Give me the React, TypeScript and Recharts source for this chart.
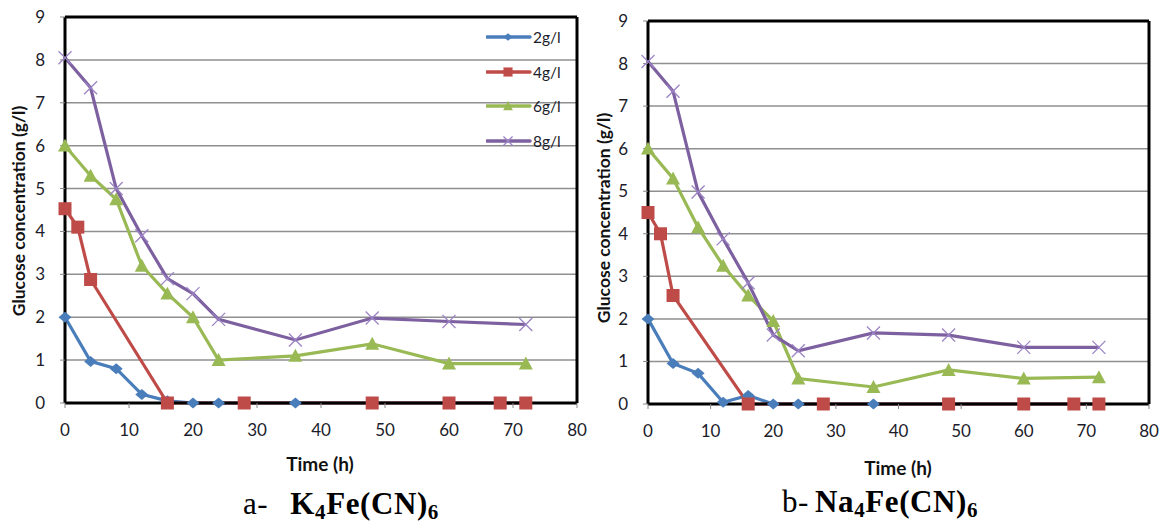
import React from "react"
import { LineChart, Line, XAxis, YAxis, CartesianGrid, ReferenceLine, Legend } from "recharts"

// sampling times (h)
const times = [0, 4, 8, 12, 16, 20, 24, 36, 48, 60, 72]
const times4 = [0, 2, 4, 16, 28, 48, 60, 68, 72]

const xTicks = [0, 10, 20, 30, 40, 50, 60, 70, 80]
const yTicks = [0, 1, 2, 3, 4, 5, 6, 7, 8, 9]

// a- K4Fe(CN)6, glucose (g/l)
const k2 = [2.0, 0.97, 0.8, 0.2, 0.05, 0, 0, 0, 0, 0, 0]
const k4 = [4.53, 4.1, 2.88, 0, 0, 0, 0, 0, 0]
const k6 = [6.0, 5.3, 4.75, 3.2, 2.55, 2.0, 1.0, 1.1, 1.38, 0.92, 0.92]
const k8 = [8.05, 7.35, 5.0, 3.9, 2.9, 2.55, 1.95, 1.47, 1.98, 1.9, 1.83]

// b- Na4Fe(CN)6, glucose (g/l)
const n2 = [2.0, 0.95, 0.72, 0.04, 0.2, 0, 0, 0, 0, 0, 0]
const n4 = [4.5, 4.0, 2.55, 0, 0, 0, 0, 0, 0]
const n6 = [6.0, 5.3, 4.15, 3.25, 2.55, 1.95, 0.6, 0.4, 0.8, 0.6, 0.63]
const n8 = [8.05, 7.35, 4.98, 3.88, 2.85, 1.62, 1.25, 1.67, 1.62, 1.33, 1.33]

const labels = ["2g/l", "4g/l", "6g/l", "8g/l"]
const colors = ["#4A7EBB", "#BE4B48", "#98B954", "#7D60A0"]

const FONT = "Lato, 'Open Sans', sans-serif"
const TEXT = "#1c1c2a"

const zip = (ts: number[], vs: number[]) => ts.map((t, i) => ({ t, g: vs[i] }))

function Marker({ kind, cx, cy, s = 1 }: { kind: number; cx: number; cy: number; s?: number }) {
  if (kind === 0) {
    const w = 6.5 * s, h = 5.5 * s
    return <polygon points={`${cx},${cy - h} ${cx + w},${cy} ${cx},${cy + h} ${cx - w},${cy}`} fill={colors[0]} />
  }
  if (kind === 1) {
    const r = 6.5 * s
    return <rect x={cx - r} y={cy - r} width={r * 2} height={r * 2} fill={colors[1]} />
  }
  if (kind === 2) {
    const r = 7 * s
    return <polygon points={`${cx},${cy - r} ${cx + r},${cy + r * 0.85} ${cx - r},${cy + r * 0.85}`} fill={colors[2]} />
  }
  const r = 6.5 * s
  return (
    <g stroke="#9C84C4" strokeWidth={1.3}>
      <line x1={cx - r} y1={cy - r} x2={cx + r} y2={cy + r} />
      <line x1={cx - r} y1={cy + r} x2={cx + r} y2={cy - r} />
    </g>
  )
}

function LegendBox() {
  return (
    <div style={{ fontFamily: FONT }}>
      {labels.map((l, i) => (
        <div key={l} style={{ display: "flex", alignItems: "center", height: 34.6 }}>
          <svg width={46} height={16}>
            <line x1={1} y1={8} x2={44} y2={8} stroke={colors[i]} strokeWidth={3.5} strokeLinecap="round" />
            <Marker kind={i} cx={22} cy={8} s={0.7} />
          </svg>
          <span style={{ fontSize: 15.5, color: TEXT, marginLeft: 1 }}>{l}</span>
        </div>
      ))}
    </div>
  )
}

function Panel({ sets, width, height, top, right, legend }: {
  sets: { t: number; g: number }[][]
  width: number
  height: number
  top: number
  right: number
  legend?: boolean
}) {
  return (
    <LineChart width={width} height={height} margin={{ top, right, left: 25, bottom: 0 }}>
      <CartesianGrid horizontal vertical={false} stroke="#8f8f8f" strokeWidth={1.5} />
      <XAxis
        type="number"
        dataKey="t"
        domain={[0, 80]}
        ticks={xTicks}
        height={37}
        axisLine={{ stroke: "#000", strokeWidth: 3 }}
        tickLine={{ stroke: "#888" }}
        tickSize={5}
        tickMargin={16}
        tick={{ fontSize: 17, fill: TEXT, fontFamily: FONT }}
      />
      <YAxis
        type="number"
        domain={[0, 9]}
        ticks={yTicks}
        width={40}
        axisLine={{ stroke: "#000", strokeWidth: 3 }}
        tickLine={{ stroke: "#888" }}
        tickSize={5}
        tickMargin={15}
        tick={{ fontSize: 17, fill: TEXT, fontFamily: FONT }}
      />
      <ReferenceLine y={9} stroke="#000" strokeWidth={3} />
      <ReferenceLine x={80} stroke="#000" strokeWidth={3} />
      {sets.map((d, i) => (
        <Line
          key={labels[i]}
          data={d}
          dataKey="g"
          name={labels[i]}
          stroke={colors[i]}
          strokeWidth={3.2}
          isAnimationActive={false}
          activeDot={false}
          dot={(p: any) => <Marker key={`m${i}-${p.index}`} kind={i} cx={p.cx} cy={p.cy} />}
        />
      ))}
      {legend && (
        <Legend
          layout="vertical"
          align="center"
          verticalAlign="middle"
          content={() => <LegendBox />}
          wrapperStyle={{ left: 486, top: 20, width: 90, height: 140 }}
        />
      )}
    </LineChart>
  )
}

const yTitle: React.CSSProperties = {
  position: "absolute",
  transform: "translate(-50%, -50%) rotate(-90deg)",
  whiteSpace: "nowrap",
  fontWeight: 700,
  fontSize: 17.5,
  fontFamily: FONT,
  color: "#111",
}

const xTitle: React.CSSProperties = {
  position: "absolute",
  transform: "translate(-50%, -50%)",
  whiteSpace: "nowrap",
  fontWeight: 700,
  fontSize: 19,
  fontFamily: FONT,
  color: "#111",
}

const caption: React.CSSProperties = {
  position: "absolute",
  whiteSpace: "nowrap",
  fontFamily: "'Liberation Serif', 'Times New Roman', serif",
  fontSize: 31,
  lineHeight: "31px",
  letterSpacing: 0.6,
  color: "#000",
}

const sub: React.CSSProperties = { fontSize: 21, verticalAlign: "-5px", lineHeight: "18px" }

export default function App() {
  const setsK = [zip(times, k2), zip(times4, k4), zip(times, k6), zip(times, k8)]
  const setsN = [zip(times, n2), zip(times4, n4), zip(times, n6), zip(times, n8)]
  return (
    <div style={{ position: "absolute", left: 0, top: 0, width: 1163, height: 524, background: "#fff", overflow: "hidden" }}>
      <div style={{ position: "absolute", left: 0, top: 0 }}>
        <Panel sets={setsK} width={590} height={440} top={17} right={13} legend />
      </div>
      <div style={{ position: "absolute", left: 583, top: 0 }}>
        <Panel sets={setsN} width={580} height={441} top={21} right={14} />
      </div>

      <div style={{ ...yTitle, left: 18, top: 211 }}>Glucose concentration (g/l)</div>
      <div style={{ ...yTitle, left: 603, top: 218 }}>Glucose concentration (g/l)</div>
      <div style={{ ...xTitle, left: 320, top: 463 }}>Time (h)</div>
      <div style={{ ...xTitle, left: 898, top: 467 }}>Time (h)</div>

      <div style={{ ...caption, left: 243, top: 488 }}>
        a-<b style={{ marginLeft: 22 }}>K<span style={sub}>4</span>Fe(CN)<span style={sub}>6</span></b>
      </div>
      <div style={{ ...caption, left: 782, top: 486 }}>
        b-<b style={{ marginLeft: 6 }}>Na<span style={sub}>4</span>Fe(CN)<span style={sub}>6</span></b>
      </div>
    </div>
  )
}
